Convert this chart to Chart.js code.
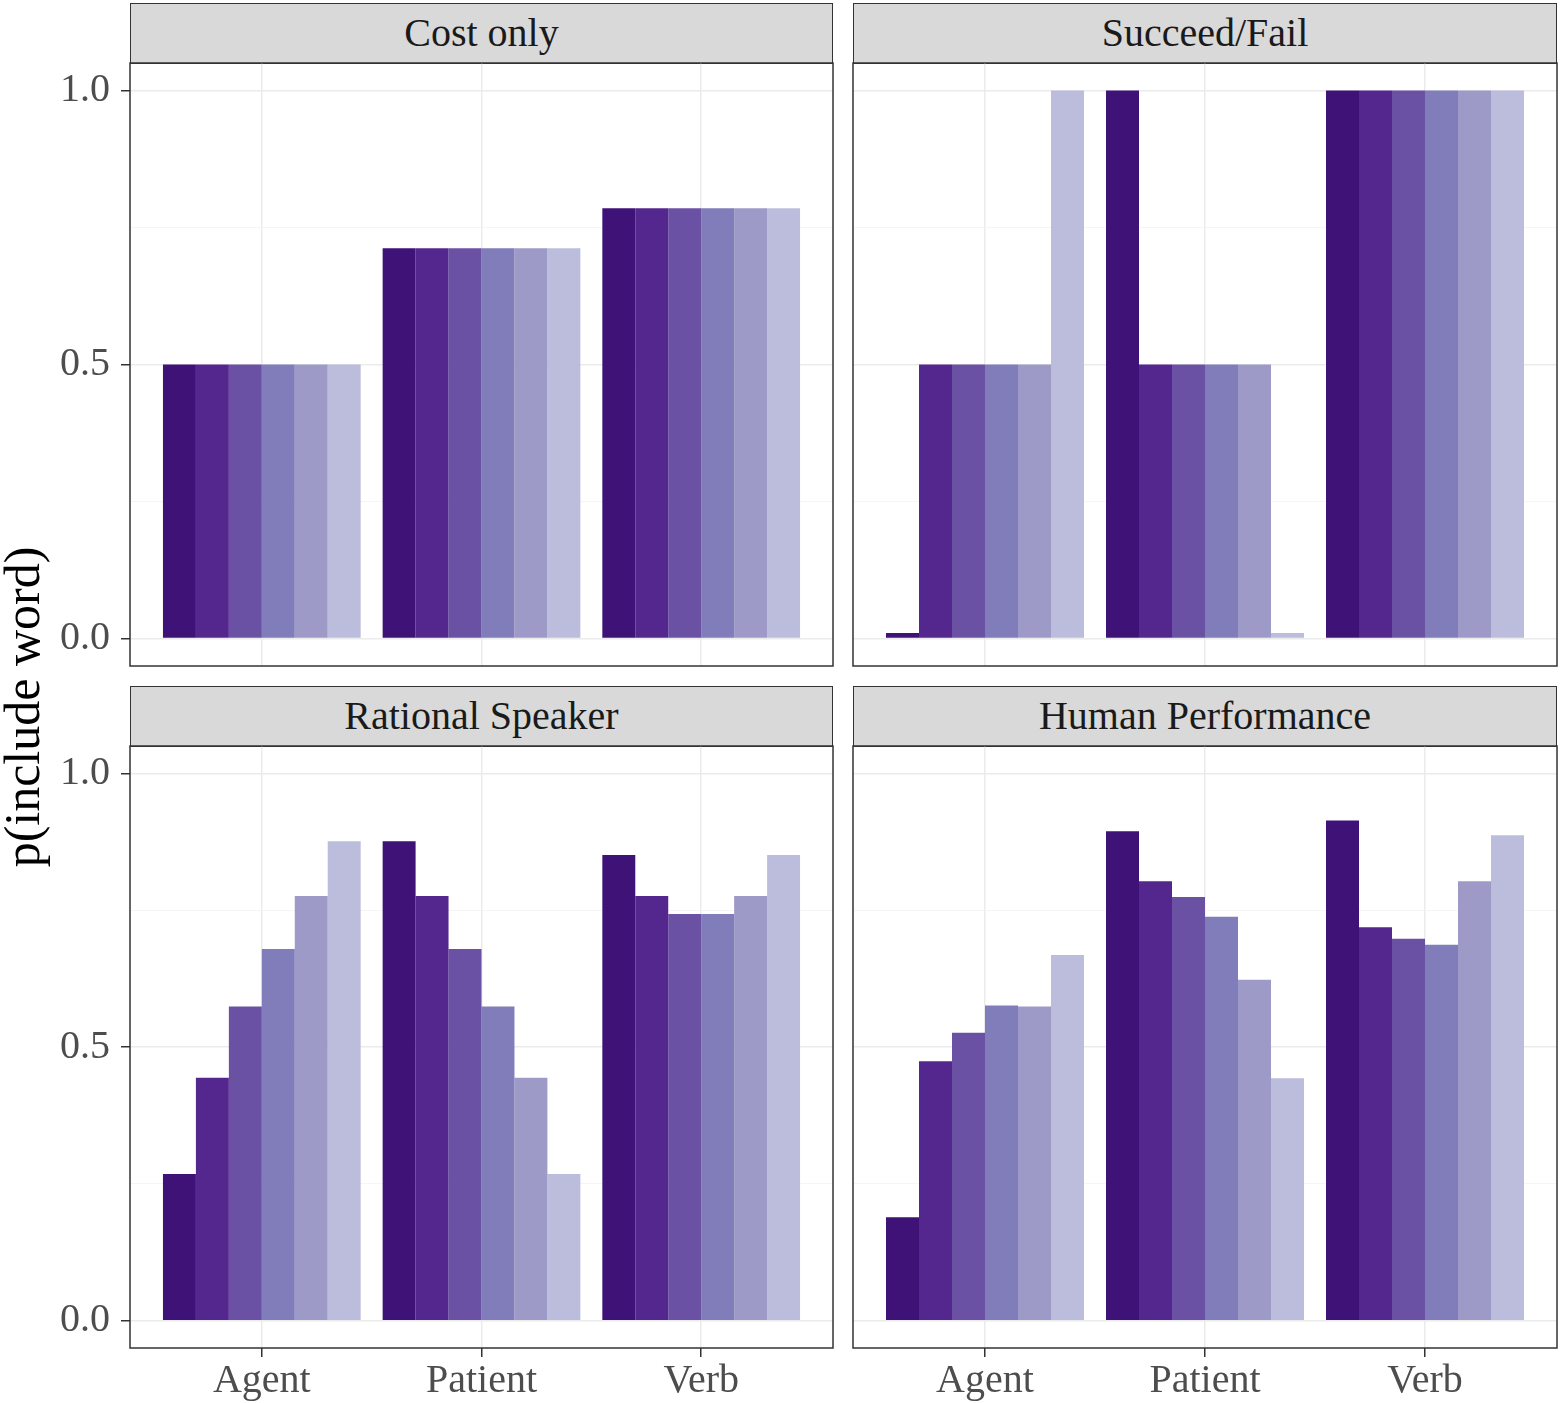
<!DOCTYPE html>
<html>
<head>
<meta charset="utf-8">
<script src="https://cdn.jsdelivr.net/npm/chart.js@4/dist/chart.umd.min.js"></script>
<style>
  html, body { margin: 0; padding: 0; background: #ffffff; }
  body { width: 1560px; height: 1403px; position: relative; overflow: hidden; font-family: "Liberation Serif", "DejaVu Serif", serif; }
  .holder { position: absolute; }
  .strip { position: absolute; box-sizing: border-box; background: #d9d9d9; border: 1.5px solid #333333; color: #1a1a1a; font-size: 40px; text-align: center; line-height: 57px; }
  #ylabel { position: absolute; left: 22px; top: 707px; transform: translate(-50%, -50%) rotate(-90deg); font-size: 50px; color: #000; white-space: nowrap; }
</style>
</head>
<body>
<div id="ylabel">p(include word)</div>
<script>
// ---- data ----
const categories = ['Agent', 'Patient', 'Verb'];
const panelTitles = ['Cost only', 'Succeed/Fail', 'Rational Speaker', 'Human Performance'];
const seriesNames = ['level 1', 'level 2', 'level 3', 'level 4', 'level 5', 'level 6'];
const seriesColors = ['#3f1278', '#54278f', '#6a51a3', '#807dba', '#9e9ac8', '#bcbddc'];
const yTickValues = [0, 0.25, 0.5, 0.75, 1.0];

// values: one array per series, ordered as categories (Agent, Patient, Verb)
const costOnly = [
  [0.5, 0.712, 0.785],
  [0.5, 0.712, 0.785],
  [0.5, 0.712, 0.785],
  [0.5, 0.712, 0.785],
  [0.5, 0.712, 0.785],
  [0.5, 0.712, 0.785]
];
const succeedFail = [
  [0.01, 1.0, 1.0],
  [0.5, 0.5, 1.0],
  [0.5, 0.5, 1.0],
  [0.5, 0.5, 1.0],
  [0.5, 0.5, 1.0],
  [1.0, 0.01, 1.0]
];
const rationalSpeaker = [
  [0.268, 0.876, 0.851],
  [0.444, 0.776, 0.776],
  [0.574, 0.679, 0.743],
  [0.679, 0.574, 0.743],
  [0.776, 0.444, 0.776],
  [0.876, 0.268, 0.851]
];
const humanPerformance = [
  [0.189, 0.894, 0.914],
  [0.474, 0.803, 0.719],
  [0.526, 0.774, 0.698],
  [0.576, 0.738, 0.687],
  [0.574, 0.623, 0.803],
  [0.668, 0.443, 0.887]
];
const panelData = [costOnly, succeedFail, rationalSpeaker, humanPerformance];

// ---- layout ----
const panelBoxes = [
  { left: 130, right: 833, top: 63, bottom: 666, showY: true, showX: false },
  { left: 853, right: 1557, top: 63, bottom: 666, showY: false, showX: false },
  { left: 130, right: 833, top: 746, bottom: 1348, showY: true, showX: true },
  { left: 853, right: 1557, top: 746, bottom: 1348, showY: false, showX: true }
];
const STRIP_H = 60;
const PAD = 2;
const VPAD = 50;
const X_AXIS_H = 55;
const TICK_LEN = 9;

const isMajor = (v) => Math.abs(v * 2 - Math.round(v * 2)) < 1e-6;

const borderPlugin = {
  id: 'panelBorder',
  afterDraw(chart) {
    const a = chart.chartArea;
    const ctx = chart.ctx;
    ctx.save();
    ctx.strokeStyle = '#333333';
    ctx.lineWidth = 1.5;
    ctx.strokeRect(a.left, a.top, a.right - a.left, a.bottom - a.top);
    ctx.restore();
  }
};

panelBoxes.forEach((b, i) => {
  // strip
  const strip = document.createElement('div');
  strip.className = 'strip';
  strip.style.left = b.left + 'px';
  strip.style.top = (b.top - STRIP_H) + 'px';
  strip.style.width = (b.right - b.left) + 'px';
  strip.style.height = (STRIP_H + 1) + 'px';
  strip.textContent = panelTitles[i];
  document.body.appendChild(strip);

  const yW = b.showY ? b.left : PAD;
  const cLeft = b.left - yW;
  const cTop = b.top - VPAD;
  const xH = b.showX ? X_AXIS_H : 0;
  const bottomPad = b.showX ? 0 : VPAD;
  const cW = b.right + PAD - cLeft;
  const cH = b.bottom + xH + bottomPad - cTop;

  const holder = document.createElement('div');
  holder.className = 'holder';
  holder.style.left = cLeft + 'px';
  holder.style.top = cTop + 'px';
  holder.style.width = cW + 'px';
  holder.style.height = cH + 'px';
  const canvas = document.createElement('canvas');
  canvas.width = cW; canvas.height = cH;
  canvas.style.width = cW + 'px'; canvas.style.height = cH + 'px';
  holder.appendChild(canvas);
  document.body.appendChild(holder);

  const datasets = seriesNames.map((name, s) => ({
    label: name,
    data: categories.map((c, k) => ({ x: k + 1, y: panelData[i][s][k] })),
    backgroundColor: seriesColors[s],
    borderWidth: 0,
    categoryPercentage: 0.9,
    barPercentage: 1.0
  }));

  new Chart(canvas, {
    type: 'bar',
    data: { datasets },
    plugins: [borderPlugin],
    options: {
      responsive: false,
      animation: false,
      devicePixelRatio: 1,
      layout: { padding: { top: VPAD, right: PAD, left: 0, bottom: bottomPad } },
      plugins: { legend: { display: false }, tooltip: { enabled: false }, title: { display: false } },
      scales: {
        x: {
          type: 'linear',
          min: 0.4, max: 3.6,
          offset: false,
          afterBuildTicks: (sc) => { sc.ticks = categories.map((c, k) => ({ value: k + 1 })); },
          afterFit: (sc) => { sc.height = xH; },
          border: { display: false },
          grid: {
            offset: false,
            color: '#ebebeb', lineWidth: 1.5,
            drawTicks: b.showX, tickLength: TICK_LEN, tickColor: '#333333', tickWidth: 1.5
          },
          ticks: {
            display: b.showX,
            autoSkip: false, maxRotation: 0, minRotation: 0,
            padding: 0,
            color: '#4d4d4d',
            font: { family: '"Liberation Serif", serif', size: 40 },
            callback: (v) => categories[Math.round(v) - 1] || ''
          }
        },
        y: {
          type: 'linear',
          min: -0.05, max: 1.05,
          afterBuildTicks: (sc) => { sc.ticks = yTickValues.map(v => ({ value: v })); },
          afterFit: (sc) => { sc.width = yW; },
          border: { display: false },
          grid: {
            color: (ctx) => (ctx.tick && isMajor(ctx.tick.value)) ? '#ebebeb' : '#f3f3f3',
            lineWidth: (ctx) => (ctx.tick && isMajor(ctx.tick.value)) ? 1.5 : 0.8,
            drawTicks: b.showY, tickLength: TICK_LEN, tickWidth: 1.5,
            tickColor: (ctx) => (ctx.tick && isMajor(ctx.tick.value)) ? '#333333' : 'rgba(0,0,0,0)'
          },
          ticks: {
            display: b.showY,
            padding: 11,
            color: '#4d4d4d',
            font: { family: '"Liberation Serif", serif', size: 40 },
            callback: (v) => isMajor(v) ? v.toFixed(1) : ''
          }
        }
      }
    }
  });
});
</script>
</body>
</html>
